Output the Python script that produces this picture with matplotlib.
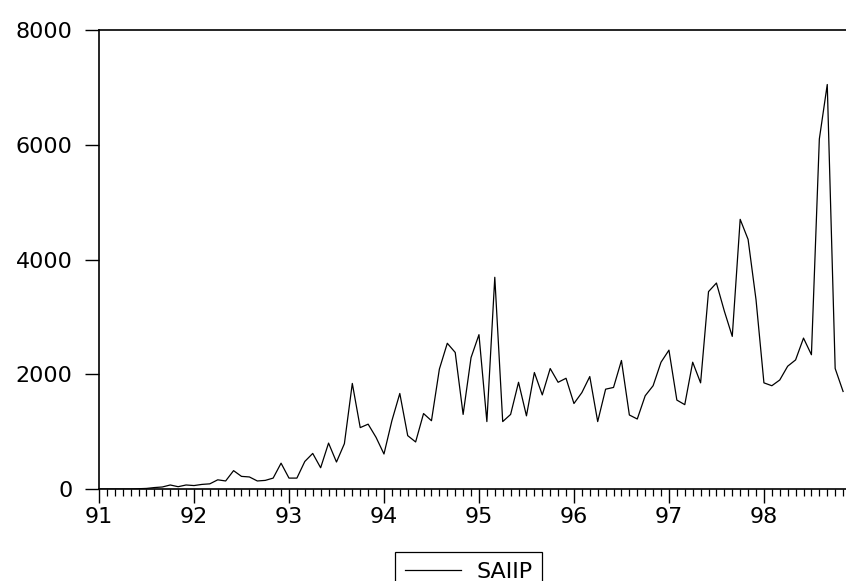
import numpy as np
import matplotlib
matplotlib.use("Agg")
import matplotlib.pyplot as plt
from matplotlib.ticker import MultipleLocator, FixedLocator

# monthly SAIIP series, Jan 1991 - Nov 1998
saiip = [
    0, 0, 0, 0, 0, 5, 10, 25, 35, 70, 40, 70,                 # 1991
    60, 80, 90, 160, 140, 320, 220, 210, 140, 150, 190, 450,  # 1992
    190, 190, 480, 620, 370, 800, 470, 790, 1840, 1070, 1130, 900,  # 1993
    610, 1190, 1665, 930, 820, 1315, 1190, 2090, 2540, 2380, 1300, 2290,  # 1994
    2690, 1175, 3690, 1175, 1300, 1860, 1275, 2030, 1640, 2100, 1860, 1930,  # 1995
    1490, 1680, 1960, 1175, 1740, 1770, 2240, 1290, 1220, 1625, 1800, 2210,  # 1996
    2420, 1550, 1470, 2210, 1850, 3440, 3590, 3100, 2660, 4700, 4350, 3300,  # 1997
    1850, 1800, 1900, 2140, 2250, 2630, 2340, 6100, 7050, 2100, 1700,        # 1998
]
start_year = 1991
year_labels = ["91", "92", "93", "94", "95", "96", "97", "98"]
y_ticks = [0, 2000, 4000, 6000, 8000]

t = start_year + np.arange(len(saiip)) / 12.0

plt.rcParams["font.family"] = ["DejaVu Sans"]

fig = plt.figure(figsize=(8.46, 5.81), dpi=100)
W, H = 846, 581
left_px, right_px, top_px, bottom_px = 99, 851, 30, 489
ax = fig.add_axes([left_px / W, 1 - bottom_px / H,
                   (right_px - left_px) / W, (bottom_px - top_px) / H])

ax.plot(t, saiip, color="black", linewidth=0.9, label="SAIIP")

ax.set_xlim(start_year, start_year + 95 / 12.0)
ax.set_ylim(0, 8000)

ax.xaxis.set_major_locator(FixedLocator(start_year + np.arange(len(year_labels))))
ax.set_xticklabels(year_labels)
ax.xaxis.set_minor_locator(MultipleLocator(1 / 12.0))
ax.set_yticks(y_ticks)
ax.set_yticklabels([str(v) for v in y_ticks])

ax.tick_params(axis="x", which="major", direction="out", length=10, width=1.0,
               pad=3, labelsize=16)
ax.tick_params(axis="x", which="minor", direction="out", length=5, width=0.9)
ax.tick_params(axis="y", which="major", direction="out", length=10, width=1.0,
               pad=9, labelsize=16)

for side in ["left", "top", "bottom"]:
    ax.spines[side].set_linewidth(1.2)
    ax.spines[side].set_color("black")
ax.spines["right"].set_visible(False)

leg = ax.legend(loc="upper left", bbox_to_anchor=(395 / W, 1 - 552 / H),
                bbox_transform=fig.transFigure, borderaxespad=0,
                fancybox=False, framealpha=1, edgecolor="black",
                fontsize=16, handlelength=2.5, handletextpad=0.7,
                borderpad=0.45)
leg.get_frame().set_linewidth(0.9)

fig.savefig("out.png", dpi=100)
